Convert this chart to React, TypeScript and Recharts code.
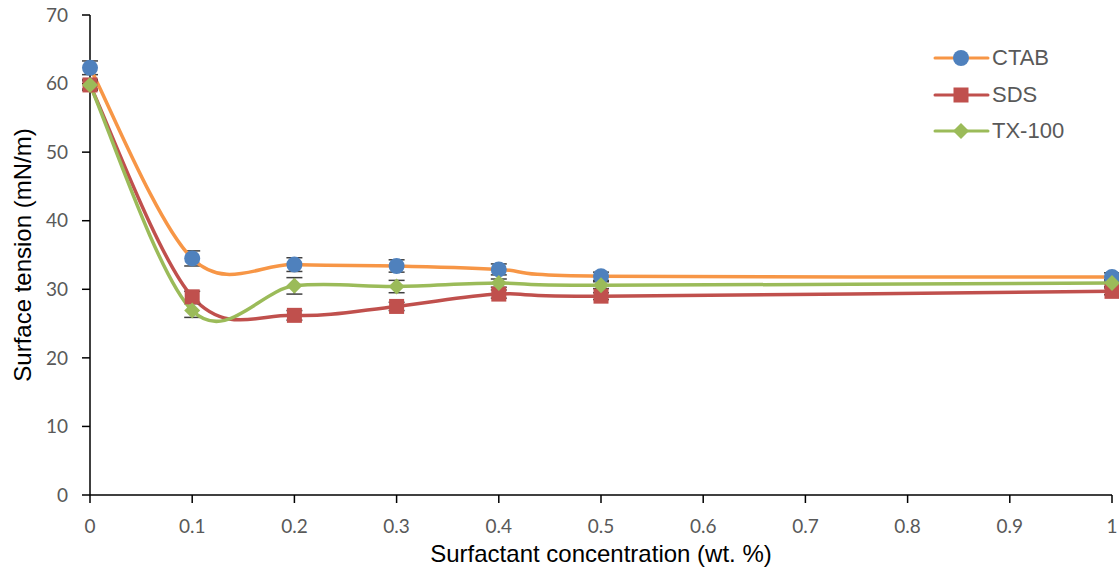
import { ErrorBar, Line, LineChart, XAxis, YAxis } from "recharts";

const concentrations = [0, 0.1, 0.2, 0.3, 0.4, 0.5, 1];
const ctabValues = [62.3, 34.5, 33.6, 33.4, 32.9, 31.9, 31.8];
const sdsValues = [59.8, 28.9, 26.2, 27.5, 29.3, 29.0, 29.7];
const tx100Values = [59.8, 26.9, 30.5, 30.4, 30.9, 30.6, 30.9];
const ctabErrors = [1.0, 1.1, 1.0, 0.9, 0.8, 0.6, 0.6];
const sdsErrors = [0.6, 0.8, 0.7, 0.6, 0.6, 0.5, 0.5];
const tx100Errors = [0.8, 1.0, 1.2, 0.9, 0.6, 0.5, 0.5];

const xTicks = [0, 0.1, 0.2, 0.3, 0.4, 0.5, 0.6, 0.7, 0.8, 0.9, 1];
const yTicks = [0, 10, 20, 30, 40, 50, 60, 70];

const TICK_COLOR = "#595959";
const TITLE_FONT = "'Liberation Sans', Arial, sans-serif";
const TICK_FONT = "Lato, 'Open Sans', sans-serif";

const SERIES = [
	{ key: "ctab", name: "CTAB", line: "#F79646", marker: "#4F81BD", shape: "circle" },
	{ key: "sds", name: "SDS", line: "#C0504D", marker: "#C0504D", shape: "square" },
	{ key: "tx100", name: "TX-100", line: "#9BBB59", marker: "#9BBB59", shape: "diamond" },
];

const chartData = concentrations.map((x, index) => ({
	x,
	ctab: ctabValues[index],
	sds: sdsValues[index],
	tx100: tx100Values[index],
	ctabErr: ctabErrors[index],
	sdsErr: sdsErrors[index],
	tx100Err: tx100Errors[index],
}));

// Excel-style smoothed line (Catmull-Rom through the points)
function excelSmooth(context: any) {
	let points: number[][] = [];
	return {
		areaStart() {},
		areaEnd() {},
		lineStart() {
			points = [];
		},
		point(x: number, y: number) {
			points.push([+x, +y]);
		},
		lineEnd() {
			if (points.length === 0) {
				return;
			}
			context.moveTo(points[0][0], points[0][1]);
			for (let i = 0; i < points.length - 1; i += 1) {
				const p0 = points[i - 1] ?? points[i];
				const p1 = points[i];
				const p2 = points[i + 1];
				const p3 = points[i + 2] ?? p2;
				context.bezierCurveTo(
					p1[0] + (p2[0] - p0[0]) / 6,
					p1[1] + (p2[1] - p0[1]) / 6,
					p2[0] - (p3[0] - p1[0]) / 6,
					p2[1] - (p3[1] - p1[1]) / 6,
					p2[0],
					p2[1],
				);
			}
		},
	};
}

function Marker({ cx, cy, shape, color }: { cx: number; cy: number; shape: string; color: string }) {
	if (shape === "circle") {
		return <circle cx={cx} cy={cy} r={8} fill={color} />;
	}
	if (shape === "square") {
		return <rect x={cx - 7.5} y={cy - 7.5} width={15} height={15} fill={color} />;
	}
	return (
		<polygon
			points={`${cx},${cy - 8} ${cx + 8},${cy} ${cx},${cy + 8} ${cx - 8},${cy}`}
			fill={color}
		/>
	);
}

function makeDot(shape: string, color: string) {
	return (props: any) => {
		const { cx, cy, index } = props;
		if (cx == null || cy == null) {
			return <g key={index} />;
		}
		return (
			<g key={index}>
				<Marker cx={cx} cy={cy} shape={shape} color={color} />
			</g>
		);
	};
}

function ChartLegend() {
	return (
		<div
			style={{
				position: "absolute",
				left: 933,
				top: 40,
				fontFamily: TITLE_FONT,
				fontSize: 22,
				color: TICK_COLOR,
			}}
		>
			{SERIES.map((series) => (
				<div
					key={series.key}
					style={{ display: "flex", alignItems: "center", height: 36.5 }}
				>
					<svg width={59} height={20}>
						<line x1={2} y1={10} x2={55} y2={10} stroke={series.line} strokeWidth={3} strokeLinecap="round" />
						<Marker cx={28} cy={10} shape={series.shape} color={series.marker} />
					</svg>
					<span>{series.name}</span>
				</div>
			))}
		</div>
	);
}

export default function App() {
	return (
		<div style={{ position: "absolute", left: 0, top: 0, width: 1119, height: 573, background: "#fff" }}>
			<LineChart
				width={1119}
				height={573}
				data={chartData}
				margin={{ top: 15, right: 7, left: 0, bottom: 0 }}
			>
				<XAxis
					type="number"
					dataKey="x"
					domain={[0, 1]}
					ticks={xTicks}
					height={78}
					interval={0}
					tickSize={8}
					tickMargin={17}
					axisLine={{ stroke: "#000", strokeWidth: 1.5 }}
					tickLine={{ stroke: "#000", strokeWidth: 1.5 }}
					tick={{ fill: TICK_COLOR, fontSize: 19, fontFamily: TICK_FONT }}
					label={{
						value: "Surfactant concentration (wt. %)",
						position: "insideBottom",
						offset: 11,
						fill: "#000",
						fontSize: 24,
						fontFamily: TITLE_FONT,
					}}
				/>
				<YAxis
					type="number"
					domain={[0, 70]}
					ticks={yTicks}
					width={90}
					interval={0}
					tickSize={8}
					tickMargin={14}
					axisLine={{ stroke: "#000", strokeWidth: 1.5 }}
					tickLine={{ stroke: "#000", strokeWidth: 1.5 }}
					tick={{ fill: TICK_COLOR, fontSize: 19, fontFamily: TICK_FONT }}
					label={{
						value: "Surface tension (mN/m)",
						angle: -90,
						position: "insideLeft",
						offset: 22,
						fill: "#000",
						fontSize: 24,
						fontFamily: TITLE_FONT,
						style: { textAnchor: "middle" },
					}}
				/>
				{SERIES.map((series) => (
					<Line
						key={series.key}
						type={excelSmooth as any}
						dataKey={series.key}
						name={series.name}
						stroke={series.line}
						strokeWidth={3.5}
						dot={makeDot(series.shape, series.marker)}
						activeDot={false}
						isAnimationActive={false}
					>
						<ErrorBar
							dataKey={`${series.key}Err`}
							direction="y"
							width={8}
							stroke="#404040"
							strokeWidth={1.5}
						/>
					</Line>
				))}
			</LineChart>
			<ChartLegend />
		</div>
	);
}
